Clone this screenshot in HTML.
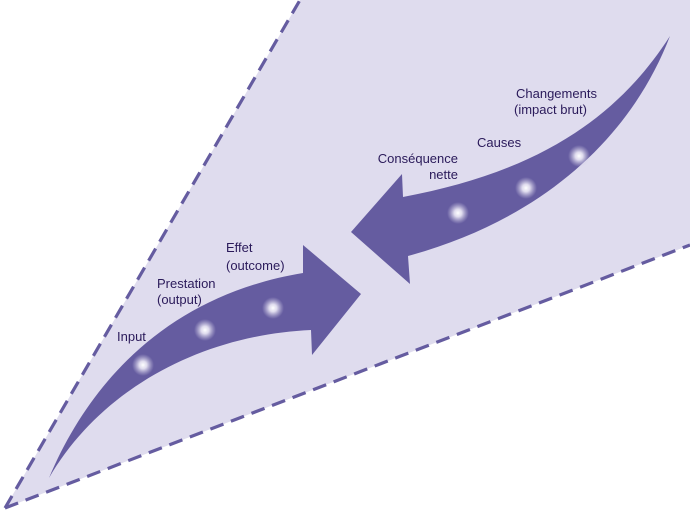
<!DOCTYPE html>
<html><head><meta charset="utf-8"><style>
html,body{margin:0;padding:0;background:#fff;}
svg{display:block;}
text{font-family:"Liberation Sans",sans-serif;font-size:13px;fill:#2a1a5a;}
</style></head><body>
<svg width="690" height="512" viewBox="0 0 690 512" xmlns="http://www.w3.org/2000/svg">
<defs>
<radialGradient id="g">
<stop offset="0" stop-color="#fff" stop-opacity="1"/>
<stop offset="0.35" stop-color="#ece9f6" stop-opacity="0.9"/>
<stop offset="1" stop-color="#c8c3e0" stop-opacity="0"/>
</radialGradient>
</defs>
<polygon points="5,508 300,0 690,0 690,245" fill="#dfdcee"/>
<line x1="5" y1="508" x2="300" y2="0" stroke="#655ca0" stroke-width="3.2" stroke-dasharray="14,8"/>
<line x1="5" y1="508" x2="690" y2="245" stroke="#655ca0" stroke-width="3.2" stroke-dasharray="14,8"/>
<path d="M49,478 C90,380 170,295 303,273 L303,245 L361,294 L312,355 L311,330 C200,335 100,390 49,478 Z" fill="#655ca0"/>
<path d="M670,36 C630,140 540,220 408,256 L410,284 L351,232 L402,174 L403,197 C520,175 610,130 670,36 Z" fill="#655ca0"/>
<circle cx="143" cy="365" r="11" fill="url(#g)"/>
<circle cx="205" cy="330" r="11" fill="url(#g)"/>
<circle cx="273" cy="308" r="11" fill="url(#g)"/>
<circle cx="458" cy="213" r="11" fill="url(#g)"/>
<circle cx="526" cy="188" r="11" fill="url(#g)"/>
<circle cx="579" cy="156" r="11" fill="url(#g)"/>
<text x="117" y="341">Input</text>
<text x="157" y="288">Prestation</text>
<text x="157" y="304">(output)</text>
<text x="226" y="252">Effet</text>
<text x="226" y="270">(outcome)</text>
<text x="516" y="98">Changements</text>
<text x="514" y="114">(impact brut)</text>
<text x="477" y="147">Causes</text>
<text x="458" y="163" text-anchor="end">Conséquence</text>
<text x="458" y="179" text-anchor="end">nette</text>
</svg>
</body></html>
